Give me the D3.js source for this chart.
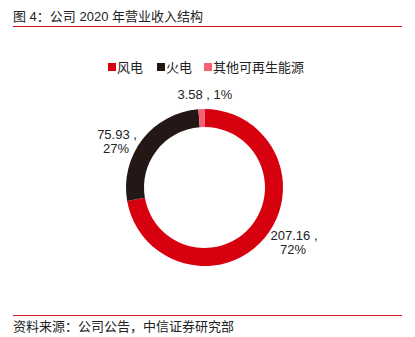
<!DOCTYPE html>
<html>
<head>
<meta charset="utf-8">
<script src="https://cdn.jsdelivr.net/npm/d3@7/dist/d3.min.js"></script>
<style>
  html, body { margin: 0; padding: 0; background: #fff; }
  svg { display: block; font-family: "Liberation Sans", "Noto Sans CJK SC", sans-serif; }
</style>
</head>
<body>
<svg id="chart" width="415" height="337"></svg>
<script>
// Revenue structure, 2020 (亿元)
const categories = ["风电", "火电", "其他可再生能源"];
const values = [207.16, 75.93, 3.58];
const valueLabels = ["207.16", "75.93", "3.58"];
const percentLabels = ["72%", "27%", "1%"];
const colors = ["#d7000f", "#231815", "#f75f73"];

const titleText = "图 4：公司 2020 年营业收入结构";
const sourceText = "资料来源：公司公告，中信证券研究部";

const W = 415, H = 337;
const svg = d3.select("#chart");

// Title and rule
svg.append("text")
  .attr("x", 13).attr("y", 21)
  .attr("font-size", 13).attr("fill", "#222")
  .text(titleText);
svg.append("line")
  .attr("x1", 13).attr("x2", 402).attr("y1", 26.5).attr("y2", 26.5)
  .attr("stroke", "#d7141e").attr("stroke-width", 1);

// Source line and rule
svg.append("line")
  .attr("x1", 13).attr("x2", 402).attr("y1", 315.5).attr("y2", 315.5)
  .attr("stroke", "#d7141e").attr("stroke-width", 1);
svg.append("text")
  .attr("x", 13).attr("y", 331)
  .attr("font-size", 13).attr("fill", "#222")
  .text(sourceText);

// Legend
const legendX = [108, 157, 204];
const legend = svg.append("g");
categories.forEach((c, i) => {
  legend.append("rect")
    .attr("x", legendX[i]).attr("y", 63)
    .attr("width", 8).attr("height", 8)
    .attr("fill", colors[i]);
  legend.append("text")
    .attr("x", legendX[i] + 9).attr("y", 72)
    .attr("font-size", 13).attr("fill", "#222")
    .text(c);
});

// Donut
const cx = 204.5, cy = 187.5;
const outerR = 78.5, innerR = 60.5;

const pie = d3.pie().sort(null).value(d => d);
const arcs = pie(values);
const arc = d3.arc().innerRadius(innerR).outerRadius(outerR);

const g = svg.append("g").attr("transform", `translate(${cx},${cy})`);
g.selectAll("path.slice")
  .data(arcs)
  .join("path")
  .attr("class", "slice")
  .attr("d", arc)
  .attr("fill", (d, i) => colors[i]);

// Data labels: centroid on a wider ring, with per-label nudges
const labelArc = d3.arc().innerRadius(100).outerRadius(100);
const nudges = [[13, -9], [-8.5, 16], [4.3, 7]];
const twoLine = [true, true, false];

arcs.forEach((a, i) => {
  const [x, y] = labelArc.centroid(a);
  const lx = x + nudges[i][0], ly = y + nudges[i][1];
  const t = g.append("text")
    .attr("text-anchor", "middle")
    .attr("font-size", 13)
    .attr("fill", "#222");
  if (twoLine[i]) {
    t.append("tspan").attr("x", lx).attr("y", ly - 3)
      .text(valueLabels[i] + " ,");
    t.append("tspan").attr("x", lx - 1).attr("y", ly + 11)
      .text(percentLabels[i]);
  } else {
    t.append("tspan").attr("x", lx).attr("y", ly + 4.5)
      .text(valueLabels[i] + " , " + percentLabels[i]);
  }
});
</script>
</body>
</html>
